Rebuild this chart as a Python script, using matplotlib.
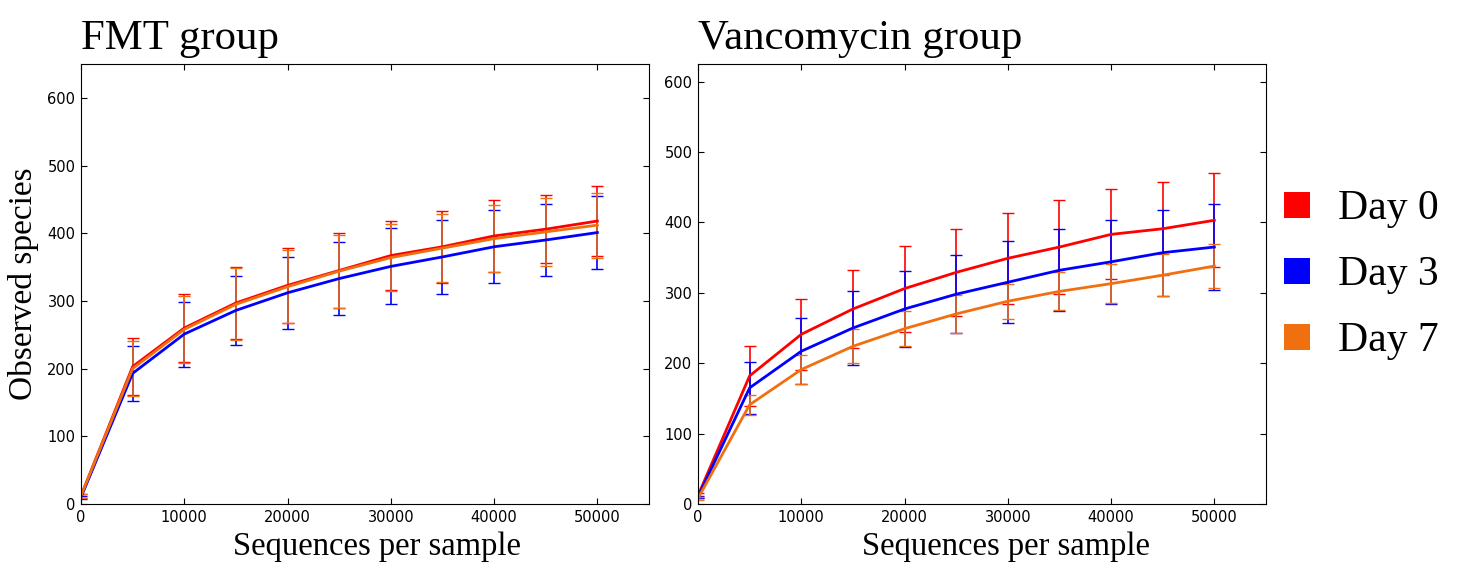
import matplotlib
matplotlib.use('Agg')
import matplotlib.pyplot as plt
from matplotlib.lines import Line2D

# sequencing depth
depth = [0, 5000, 10000, 15000, 20000, 25000, 30000, 35000, 40000, 45000, 50000]

# FMT group
fmt_day0 = [12, 203, 260, 297, 323, 345, 367, 380, 396, 406, 418]
fmt_day0_err = [3, 42, 50, 53, 55, 55, 51, 53, 53, 50, 52]
fmt_day3 = [10, 193, 251, 286, 312, 333, 351, 365, 380, 390, 401]
fmt_day3_err = [2, 41, 48, 51, 53, 54, 56, 55, 54, 53, 54]
fmt_day7 = [12, 200, 258, 295, 321, 344, 364, 378, 392, 402, 412]
fmt_day7_err = [3, 41, 49, 53, 54, 54, 50, 50, 49, 50, 48]

# Vancomycin group
van_day0 = [12, 182, 241, 277, 306, 329, 349, 365, 383, 391, 403]
van_day0_err = [3, 43, 50, 56, 61, 62, 65, 67, 64, 66, 67]
van_day3 = [10, 165, 217, 250, 277, 298, 315, 332, 344, 357, 365]
van_day3_err = [2, 37, 47, 53, 54, 55, 58, 58, 60, 61, 61]
van_day7 = [8, 141, 191, 224, 249, 270, 288, 302, 313, 325, 338]
van_day7_err = [2, 14, 20, 24, 25, 27, 25, 27, 28, 30, 31]

labels = ['Day 0', 'Day 3', 'Day 7']
colors = ['#ff0000', '#0000ff', '#f07010']

serif = ['Liberation Serif', 'DejaVu Serif']

fig = plt.figure(figsize=(14.6, 5.69), dpi=100)
ax1 = fig.add_axes([81 / 1460, 1 - 504 / 569, 568 / 1460, 440 / 569])
ax2 = fig.add_axes([698 / 1460, 1 - 504 / 569, 568 / 1460, 440 / 569])


def draw(ax, series, errs, title, ymax, xlab_x):
    for y, e, c in zip(series, errs, colors):
        ax.errorbar(depth, y, yerr=e, fmt='none', ecolor=c, elinewidth=1.2,
                    capsize=4, capthick=1)
    for y, c in zip(series, colors):
        ax.plot(depth, y, color=c, lw=2)
    ax.set_xlim(0, 55000)
    ax.set_ylim(0, ymax)
    ax.set_xticks(range(0, 50001, 10000))
    ax.set_yticks(range(0, 601, 100))
    ax.tick_params(direction='in', top=True, right=True, length=4,
                   labelsize=10.5, pad=4)
    ax.set_title(title, loc='left', family=serif, fontsize=30.8, pad=11)
    ax.set_xlabel('Sequences per sample', family=serif, fontsize=23.5)
    ax.xaxis.set_label_coords(xlab_x, -0.062)


draw(ax1, [fmt_day0, fmt_day3, fmt_day7],
     [fmt_day0_err, fmt_day3_err, fmt_day7_err], 'FMT group', 650, 0.521)
draw(ax2, [van_day0, van_day3, van_day7],
     [van_day0_err, van_day3_err, van_day7_err], 'Vancomycin group', 625, 0.542)
ax1.set_ylabel('Observed species', family=serif, fontsize=24, labelpad=6)

handles = [Line2D([], [], ls='none', marker='s', markersize=19,
                  markerfacecolor=c, markeredgewidth=0) for c in colors]
fig.legend(handles, labels, loc='center left',
           bbox_to_anchor=(1276 / 1460, 1 - 275 / 569), frameon=False,
           prop={'family': serif, 'size': 30}, handletextpad=0.5,
           labelspacing=0.66, handlelength=1.0, borderpad=0,
           borderaxespad=0)

fig.savefig('out.png', dpi=100)
